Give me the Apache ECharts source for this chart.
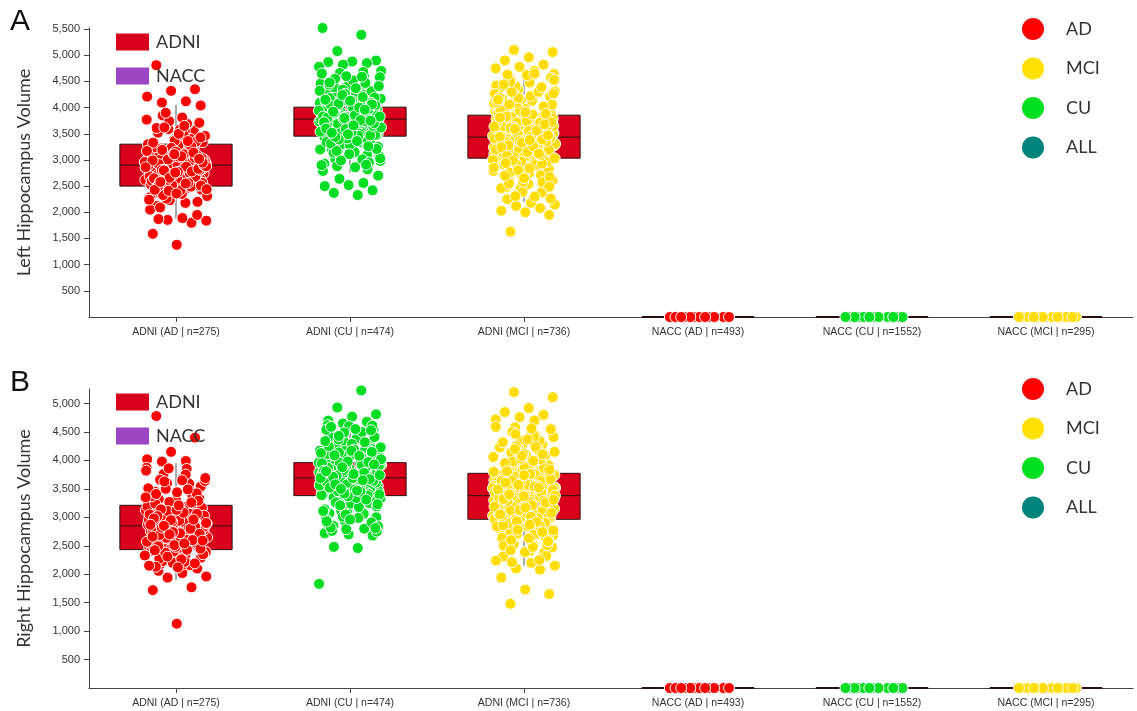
<!DOCTYPE html>
<html><head><meta charset="utf-8">
<script src="https://cdn.jsdelivr.net/npm/echarts@6/dist/echarts.min.js"></script>
<style>html,body{margin:0;padding:0;background:#fff}#c{width:1137px;height:711px}</style>
</head><body><div id="c"></div>
<script>
const categories = ['ADNI (AD | n=275)','ADNI (CU | n=474)','ADNI (MCI | n=736)','NACC (AD | n=493)','NACC (CU | n=1552)','NACC (MCI | n=295)'];
const yTicks = [500,1000,1500,2000,2500,3000,3500,4000,4500,5000,5500];

// Panel A (left hippocampus) box statistics per category
const leftWhiskerLow  = [1880, 2760, 2200, 0, 0, 0];
const leftQ1          = [2500, 3454, 3034, 0, 0, 0];
const leftMedian      = [2900, 3780, 3435, 0, 0, 0];
const leftQ3          = [3301, 4008, 3855, 0, 0, 0];
const leftWhiskerHigh = [4050, 4620, 4650, 0, 0, 0];
// Panel B (right hippocampus)
const rightWhiskerLow  = [1900, 2800, 2150, 0, 0, 0];
const rightQ1          = [2432, 3381, 2965, 0, 0, 0];
const rightMedian      = [2849, 3692, 3381, 0, 0, 0];
const rightQ3          = [3211, 3961, 3773, 0, 0, 0];
const rightWhiskerHigh = [3950, 4520, 4440, 0, 0, 0];

// individual volumes
const leftAD = [4810,4350,4320,4210,4120,4095,4040,1380,1590,1800,1855,1840,1890,1870,1950,
2890,3120,2470,2760,3340,2610,2980,3560,2230,2850,3050,2540,3710,2690,2940,3210,2380,3460,2800,2120,3010,2590,3300,2720,3850,2430,2910,3150,2660,3590,2310,2830,3080,2510,3390,2050,2970,3640,2740,2400,3240,2870,2580,3770,2180,3020,2640,3420,2790,2490,3180,2930,2350,3520,2700,3060,2270,3680,2820,2560,3280,2450,2990,3740,2620,3110,2090,2860,3370,2530,2750,3900,3000,2420,3610,2680,3230,2950,
2870,3190,2510,2640,3330,2780,3010,2440,3470,2920,2200,3120,2690,2560,3620,2840,3060,2380,3250,2730,2980,3540,2470,2810,3160,2600,3400,2260,2940,3070,2710,3350,2520,2890,3690,2330,3030,2770,2650,3200,2410,2960,3480,2570,2830,3110,2290,3290,2740,2900,3580,2460,3040,2680,3170,2550,2810,3430,2360,2990,3260,2620,2880,3810,2500,3090,2710,2240,3360,2800,2950,3500,2430,3140,2660,2860,3650,2580,3020,2760];
const leftCU = [5520,5390,5080,4900,4880,4870,4850,4820,4780,2330,2370,2420,2520,2500,2560,2640,2700,
3780,3520,4010,3650,3900,3340,4150,3710,3460,4280,3830,3590,2980,4060,3750,3410,4400,3870,3620,3180,3960,4520,3690,3280,3810,4090,3560,3050,4210,3740,3480,4630,3920,3610,2860,3850,4120,3380,3700,4330,3950,3530,3120,4040,3800,3440,4700,3660,3240,3990,3570,2930,4250,3760,3490,3880,4180,3630,3350,4460,3720,3010,3940,3600,4080,3420,3840,4580,3680,3200,4000,3550,2790,3790,4300,3470,3910,3640,3090,4140,3730,3500,4390,3860,3300,3970,3580,4660,3770,3150,4030,3540,3820,2900,4230,
3760,3480,4020,3610,3890,3300,4170,3700,3450,4310,3820,3570,3010,4070,3730,3400,4440,3860,3630,3200,3970,4550,3680,3290,3800,4110,3550,3080,4230,3750,3470,4600,3930,3600,2880,3840,4130,3370,3710,4340,3940,3540,3140,4050,3790,3430,4680,3670,3250,3980,3580,2950,4260,3770,3500,3870,4190,3640,3340,4470,3730,3030,3950,3610,4090,3410,3830,4590,3690,3210,4010,3560,2820,3780,4320,3460,3900,3650,3110,4150,3740,3510,4410,3850,3310,3980,3590,4650,3760,3170,4040,3530,3810,2910,4240,3620,3360,3920,4060,3490,3720,4200,3390,3850,3660,4480,3260,3800,3540,4000,3440,3700,4130,3600,3960,2990,3830,4370,3520,3750];
const leftMCI = [5100,5060,4960,4900,4820,4780,4750,4700,1630,1950,2000,2030,2080,2120,2150,2180,
3440,3050,3870,3230,3650,2780,4120,3380,2950,3560,4350,3120,3720,2600,3480,4000,3300,2870,3920,3510,4480,3180,3610,2450,3790,3400,3020,4210,3330,3680,2710,3950,3460,3100,4560,3260,3840,2920,3590,4070,3360,2540,3750,3200,3430,4290,3000,3640,2830,3980,3530,3150,4410,3280,3810,2660,3470,4160,3080,3700,2990,3570,4620,3350,2380,3890,3240,3620,4040,3420,2900,3760,3170,4250,3500,2750,3660,3060,3940,3390,2300,4520,3210,3820,3450,2960,4090,3310,3590,2250,3730,3130,4380,3490,2840,3860,3270,3640,2570,4180,3410,3040,3780,3540,2690,4010,3350,3190,4640,3600,2480,3900,3230,3700,2910,4300,
3420,3060,3860,3240,3660,2790,4130,3390,2960,3570,4360,3130,3730,2610,3490,4010,3310,2880,3930,3520,4490,3190,3620,2460,3800,3410,3030,4220,3340,3690,2720,3960,3470,3110,4570,3270,3850,2930,3600,4080,3370,2550,3760,3210,3440,4300,3010,3650,2840,3990,3540,3160,4420,3290,3820,2670,3480,4170,3090,3710,3000,3580,4630,3360,2390,3900,3250,3630,4050,3430,2910,3770,3180,4260,3510,2760,3670,3070,3950,3400,2310,4530,3220,3830,3460,2970,4100,3320,3600,2260,3740,3140,4390,3500,2850,3870,3280,3650,2580,4190,3420,3050,3790,3550,2700,4020,3360,3200,4650,3610,2490,3910,3240,3710,2920,4310,3450,3080,3880,3330,4150,3560,2990,3720,3150,4440,3390,2800,3640,3260,4060,3470,2650,3810,3120,3590,4270,3380,2940,3680];
const rightAD = [4780,4400,4150,4020,3990,3980,3540,1130,1720,1770,1940,1960,2020,2060,2100,
2850,2470,3200,2620,3010,2300,3450,2760,2540,3120,2900,2180,3330,2680,2410,3060,2800,3640,2360,2950,3250,2590,2870,3850,2230,3150,2720,2490,3380,2810,2650,3700,2270,3030,2560,2930,3520,2440,2780,3180,2130,2990,2610,3870,2340,3090,2700,3300,2520,2880,3600,2390,3040,2730,3420,2200,2960,2580,3760,2830,2460,3140,2670,3270,2320,2910,3660,2500,3070,2750,2160,3500,2840,2600,3220,
2830,2450,3190,2610,3000,2290,3440,2750,2530,3110,2890,2170,3320,2670,2400,3050,2790,3630,2350,2940,3240,2580,2860,3820,2220,3140,2710,2480,3370,2800,2640,3690,2260,3020,2550,2920,3510,2430,2770,3170,2120,2980,2600,3860,2330,3080,2690,3290,2510,2870,3590,2380,3030,2720,3410,2190,2950,2570,3750,2820,2450,3130,2660,3260,2310,2900,3650,2490,3060,2740,2150,3490,2850,2590,3210,2420,2960,2700,3350,2540];
const rightCU = [5260,5230,4930,4810,4770,4700,4680,4650,1830,2460,2480,2680,2700,2720,
3690,3400,3950,3560,3820,3250,4120,3620,3380,4240,3760,3500,2900,3990,3650,3330,4380,3800,3540,3080,3900,4500,3600,3190,3730,4050,3460,2980,4170,3670,3410,4560,3850,3520,2800,3780,4080,3300,3620,4300,3880,3450,3020,3970,3710,3360,4620,3580,3150,3920,3490,2850,4200,3680,3420,3800,4140,3550,3270,4420,3640,2940,3860,3510,4010,3350,3750,4540,3590,3120,3930,3470,2760,3700,4260,3390,3840,3570,3000,4100,3650,3430,4350,3790,3220,3910,3500,4600,3680,3060,3960,3460,3740,2820,4180,
3670,3390,3940,3550,3810,3240,4110,3610,3370,4230,3750,3490,2910,3980,3640,3320,4370,3790,3530,3070,3890,4490,3590,3180,3720,4040,3450,2970,4160,3660,3400,4550,3840,3510,2790,3770,4070,3290,3610,4290,3870,3440,3010,3960,3700,3350,4610,3570,3140,3910,3480,2840,4190,3670,3410,3790,4130,3540,3260,4410,3630,2930,3850,3500,4000,3340,3740,4530,3580,3110,3920,3460,2750,3690,4250,3380,3830,3560,2990,4090,3640,3420,4340,3780,3210,3900,3490,4590,3670,3050,3950,3450,3730,2810,4170,3600,3310,3880,4020,3470,3710,4150,3370,3820,3650,4430,3230,3760,3520,3970,3420,3690,4080,3580,3930,2960,3810,4320,3500,3740];
const rightMCI = [5200,5110,4920,4850,4800,4760,4720,4700,1480,1650,1730,1940,2080,2100,2150,
3380,2980,3780,3150,3580,2700,4050,3300,2880,3490,4280,3050,3650,2520,3420,3930,3230,2800,3850,3450,4410,3110,3540,2380,3720,3340,2950,4140,3260,3610,2640,3880,3390,3030,4490,3190,3770,2850,3520,4000,3290,2470,3680,3130,3360,4220,2930,3570,2760,3910,3460,3080,4340,3210,3740,2590,3400,4090,3010,3630,2920,3500,4550,3280,2310,3820,3170,3550,3970,3350,2830,3690,3100,4180,3430,2680,3590,2990,3870,3320,2240,4450,3140,3750,3380,2890,4020,3240,3520,2200,3660,3060,4310,3420,2770,3790,3200,3570,2500,4110,3340,2970,3710,3470,2620,3940,3280,3120,4580,3530,2410,3830,3160,3630,2840,4240,
3370,2990,3770,3160,3590,2710,4060,3310,2890,3500,4290,3060,3660,2530,3430,3940,3240,2810,3860,3460,4420,3120,3550,2390,3730,3350,2960,4150,3270,3620,2650,3890,3400,3040,4500,3200,3780,2860,3530,4010,3300,2480,3690,3140,3370,4230,2940,3580,2770,3920,3470,3090,4350,3220,3750,2600,3410,4100,3020,3640,2930,3510,4560,3290,2320,3830,3180,3560,3980,3360,2840,3700,3110,4190,3440,2690,3600,3000,3880,3330,2250,4460,3150,3760,3390,2900,4030,3250,3530,2210,3670,3070,4320,3430,2780,3800,3210,3580,2510,4120,3350,2980,3720,3480,2630,3950,3290,3130,4590,3540,2420,3840,3170,3640,2850,4250,3380,3010,3810,3260,4080,3490,2920,3650,3080,4370,3320,2740,3570,3190,3990,3400,2580,3740,3050,3520,4200,3310,2870,3610];
const naccAD  = [0,0,0,0,0,0,0,0,0,0,0,0];
const naccCU  = [0,0,0,0,0,0,0,0,0,0,0,0];
const naccMCI = [0,0,0,0,0,0,0,0,0,0,0,0];

const COL = {AD:'#ff0000', MCI:'#ffdd00', CU:'#00dd22', ALL:'#00837a', ADNI:'#d9001b', NACC:'#9b45c2'};
const FONT = 'Lato, "Noto Sans", sans-serif';
const AXFONT = '"Liberation Sans", Arial, sans-serif';

function jitter(i, seed){ return (((i + seed) * 0.6180339887) % 1 - 0.5) * 0.36; }
function pts(arr, cat, seed){ return arr.map((v,i)=>[cat + jitter(i, seed), v]); }

function boxData(lo,q1,md,q3,hi,idx){ return idx.map(i=>[i, lo[i], q1[i], md[i], q3[i], hi[i]]); }

function renderBox(params, api){
  const x = api.value(0);
  const pl = api.coord([x, api.value(1)]);
  const p1 = api.coord([x, api.value(2)]);
  const pm = api.coord([x, api.value(3)]);
  const p3 = api.coord([x, api.value(4)]);
  const ph = api.coord([x, api.value(5)]);
  const w = api.size([1,0])[0] * 0.645;
  const cx = p1[0];
  const flat = Math.abs(p1[1]-p3[1]) < 1;
  return {type:'group', children:[
    {type:'rect', shape:{x:cx-w/2, y:p3[1], width:w, height:Math.max(p1[1]-p3[1],0)},
     style:{fill: api.visual('color'), stroke:'#2a1010', lineWidth: flat?2:1}},
    {type:'line', shape:{x1:cx-w/2, y1:pm[1], x2:cx+w/2, y2:pm[1]}, style:{stroke:'#2a1010', lineWidth:1}},
    {type:'line', shape:{x1:cx, y1:ph[1], x2:cx, y2:p3[1]}, style:{stroke:'#555', lineWidth:1}},
    {type:'line', shape:{x1:cx, y1:p1[1], x2:cx, y2:pl[1]}, style:{stroke:'#555', lineWidth:1}}
  ]};
}

const grids = [
  {left:89, right:4, top:28, height:289},
  {left:89, right:4, top:389, height:299}
];
const yMax = [5520, 5255];
const yNames = ['Left Hippocampus Volume','Right Hippocampus Volume'];

const xAxis = [], yAxis = [], series = [];
[0,1].forEach(g=>{
  xAxis.push({type:'category', gridIndex:g, data:categories, boundaryGap:true,
    axisLine:{show:true, onZero:false, lineStyle:{color:'#444', width:1}},
    axisTick:{show:true, alignWithLabel:true, length:5, lineStyle:{color:'#444'}},
    axisLabel:{color:'#333', fontSize:10.5, fontFamily:AXFONT, margin:10, interval:0}});
  xAxis.push({type:'value', gridIndex:g, min:-0.5, max:5.5, show:false});
  yAxis.push({type:'value', gridIndex:g, min:0, max:yMax[g], interval:500,
    name:yNames[g], nameLocation:'middle', nameGap:56, nameRotate:90,
    nameTextStyle:{fontSize:18, color:'#333', fontFamily:FONT},
    axisLine:{show:true, onZero:false, lineStyle:{color:'#444', width:1}},
    axisTick:{show:true, length:5, lineStyle:{color:'#444'}, customValues: yTicks.filter(v=>v<=yMax[g])},
    splitLine:{show:false},
    axisLabel:{color:'#333', fontSize:11, fontFamily:AXFONT, margin:9,
      customValues: yTicks.filter(v=>v<=yMax[g]),
      formatter:v=> (v>0 && v%500===0) ? v.toLocaleString('en-US') : ''}});
});

function addPanel(g, lo,q1,md,q3,hi, AD,CU,MCI){
  series.push({name:'ADNI', type:'custom', xAxisIndex:g*2, yAxisIndex:g, z:1,
    itemStyle:{color:COL.ADNI}, renderItem:renderBox, encode:{x:0, y:[1,2,3,4,5]},
    data: boxData(lo,q1,md,q3,hi,[0,1,2])});
  series.push({name:'NACC', type:'custom', xAxisIndex:g*2, yAxisIndex:g, z:1,
    itemStyle:{color:COL.NACC}, renderItem:renderBox, encode:{x:0, y:[1,2,3,4,5]},
    data: boxData(lo,q1,md,q3,hi,[3,4,5])});
  const sc = (name, data) => ({name, type:'scatter', xAxisIndex:g*2+1, yAxisIndex:g, z:3,
    symbol:'circle', symbolSize:11, itemStyle:{color:COL[name], borderColor:'#fff', borderWidth:1, opacity:1},
    data});
  series.push(sc('AD', pts(AD,0,0.3).concat(pts(naccAD,3,0.7))));
  series.push(sc('CU', pts(CU,1,0.1).concat(pts(naccCU,4,0.45))));
  series.push(sc('MCI', pts(MCI,2,0.55).concat(pts(naccMCI,5,0.2))));
  series.push(sc('ALL', []));
}
addPanel(0, leftWhiskerLow,leftQ1,leftMedian,leftQ3,leftWhiskerHigh, leftAD,leftCU,leftMCI);
addPanel(1, rightWhiskerLow,rightQ1,rightMedian,rightQ3,rightWhiskerHigh, rightAD,rightCU,rightMCI);

const legends = [];
[[28,13],[388,373]].forEach(([tl,tr])=>{
  legends.push({orient:'vertical', left:111, top:tl, itemWidth:33, itemHeight:17, itemGap:16,
    icon:'rect', selectedMode:false,
    textStyle:{fontSize:18, color:'#333', fontFamily:FONT, padding:[0,0,0,2]},
    data:[{name:'ADNI', itemStyle:{color:COL.ADNI}}, {name:'NACC', itemStyle:{color:COL.NACC}}]});
  legends.push({orient:'vertical', left:1017, top:tr, itemWidth:22, itemHeight:22, itemGap:17.5,
    icon:'circle', selectedMode:false,
    textStyle:{fontSize:18, color:'#333', fontFamily:FONT, padding:[0,0,0,17]},
    data:[{name:'AD', itemStyle:{color:'#ff0000', borderWidth:0}}, {name:'MCI', itemStyle:{color:'#ffe000', borderWidth:0}},
          {name:'CU', itemStyle:{color:'#00e020', borderWidth:0}}, {name:'ALL', itemStyle:{color:COL.ALL, borderWidth:0}}]});
});

const chart = echarts.init(document.getElementById('c'));
chart.setOption({
  animation:false,
  backgroundColor:'#fff',
  grid:grids, xAxis, yAxis, series, legend:legends,
  graphic:[
    {type:'text', left:10, top:7, style:{text:'A', fontSize:30, fill:'#111', fontFamily:AXFONT}},
    {type:'text', left:10, top:368, style:{text:'B', fontSize:30, fill:'#111', fontFamily:AXFONT}}
  ]
});
</script></body></html>
